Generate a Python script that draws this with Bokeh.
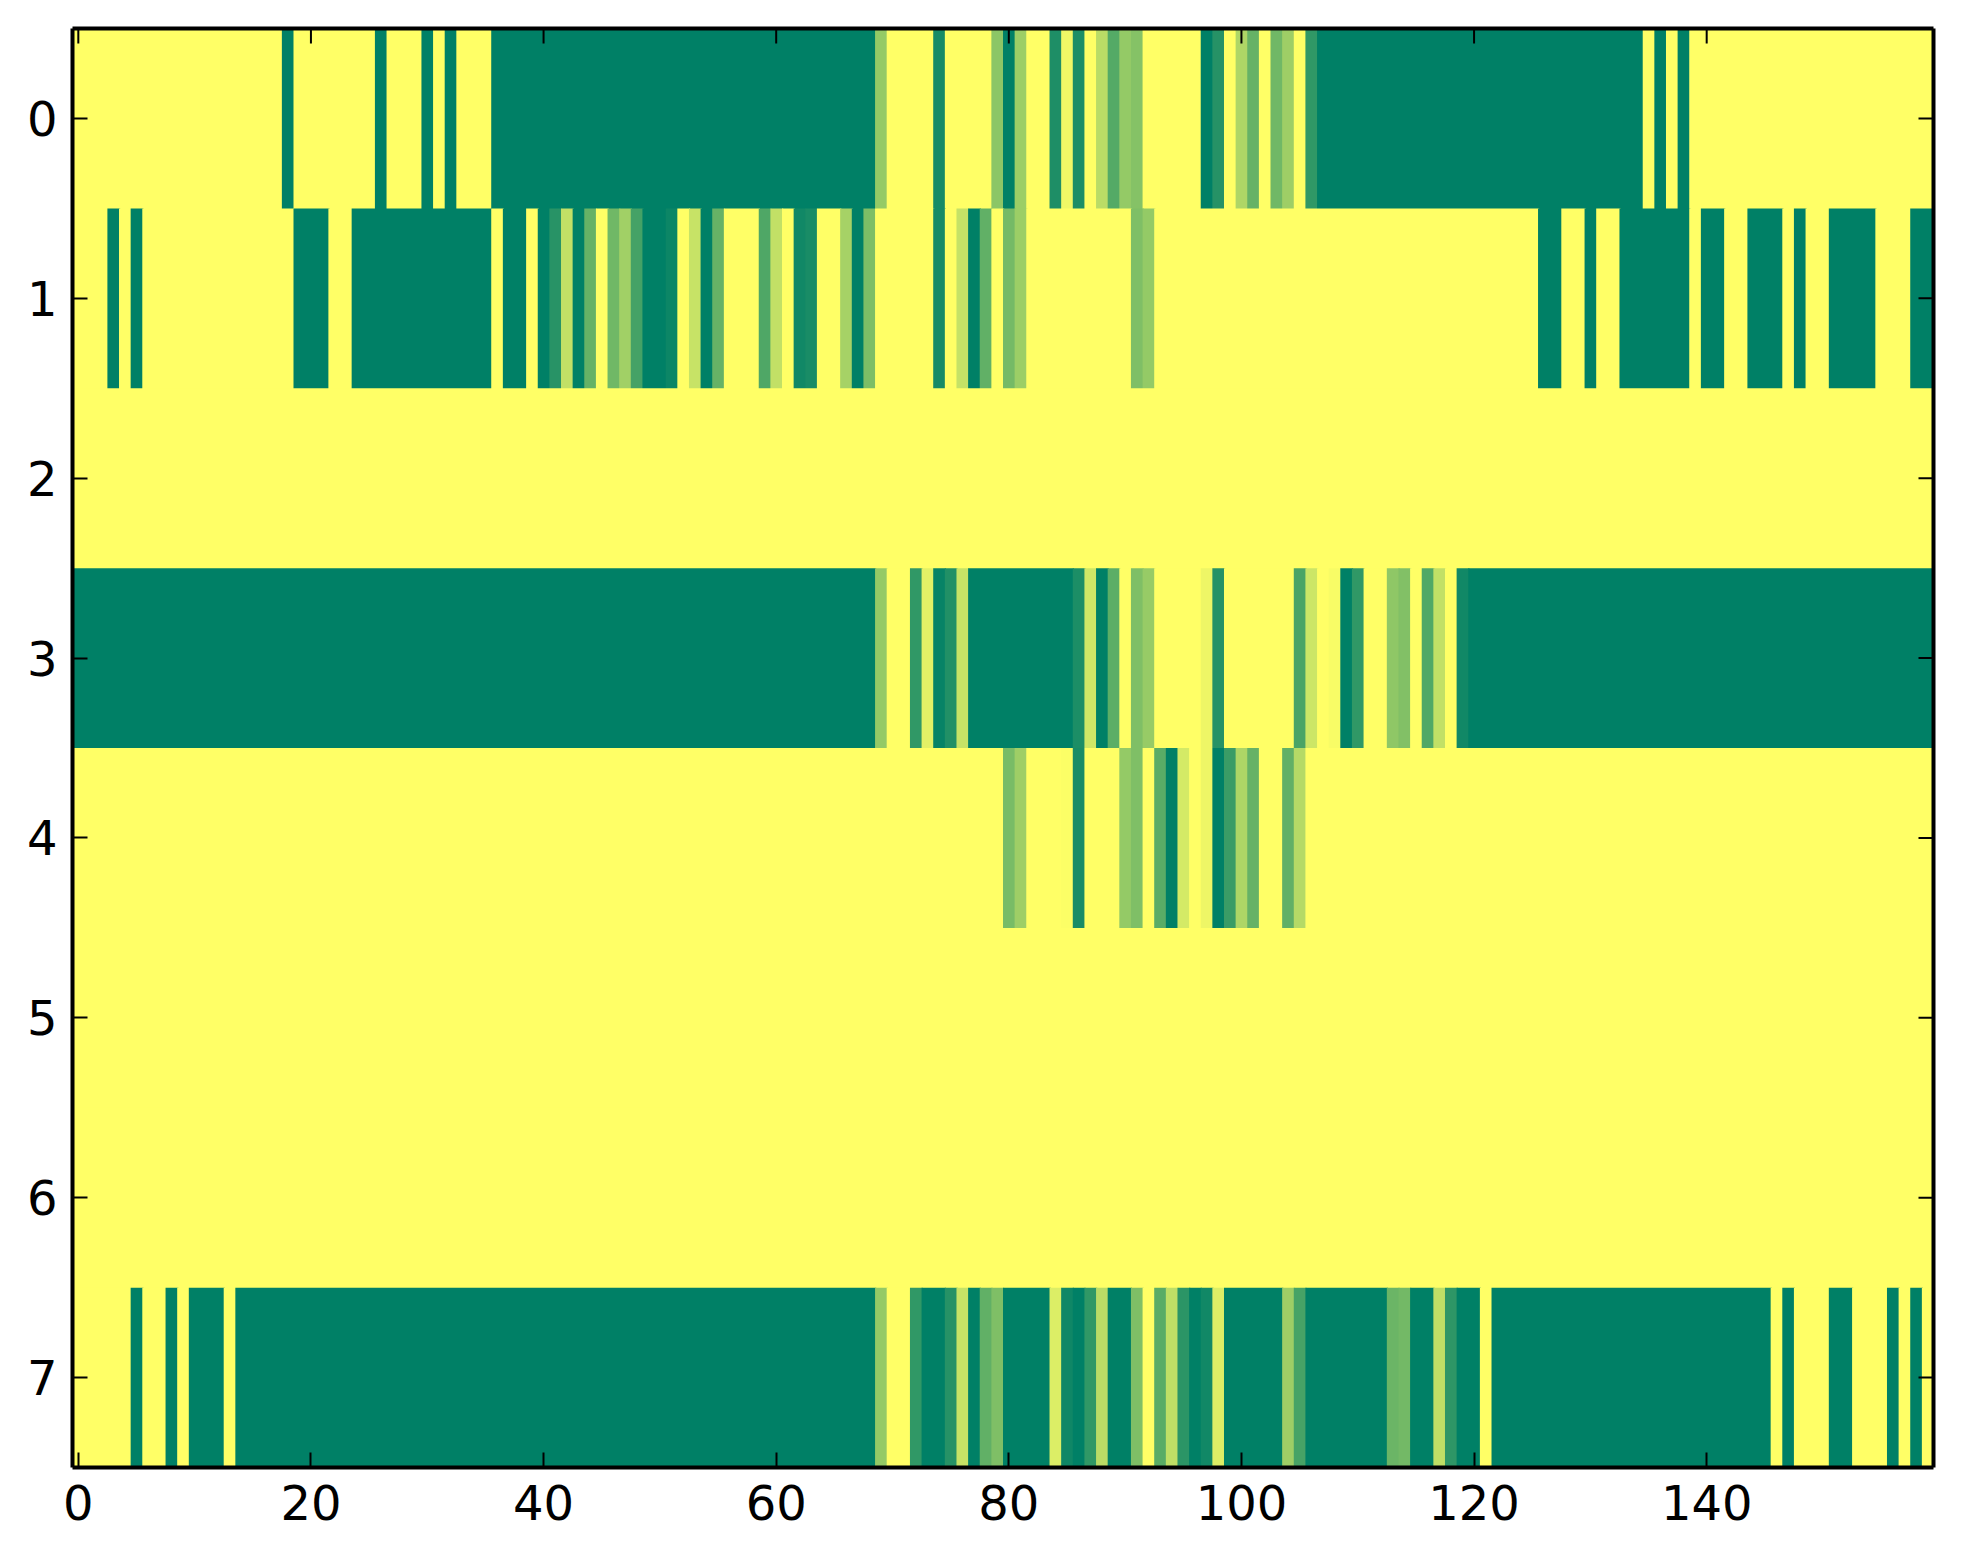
from bokeh.plotting import figure
from bokeh.models import ColumnDataSource, LinearColorMapper, FixedTicker, LinearAxis, Range1d
from bokeh.transform import transform
from bokeh.embed import file_html
from bokeh.resources import INLINE

row_0 = [0]*18 + [1, 0] + \
    [0,0,0,0,0,0,1,0,0,0,1,0,1,0,0,0,1,1,1,1] + \
    [1]*20 + \
    [1,1,1,1,1,1,1,1,1,.42,0,0,0,0,.91,0,0,0,0,.45] + \
    [1,.39,0,0,.88,.06,.89,0,.27,.67,.42,.48,0,0,0,0,0,1,.85,0] + \
    [.32,.6,0,.56,.38,0,.81,1,1,1,1,1,1,1,1,1,1,1,1,1] + \
    [1,1,1,1,1,1,1,1,1,1,1,1,1,1,1,0,1,0,1,0] + \
    [0]*20
row_1 = [0,0,0,1,0,1,0,0,0,0,0,0,0,0,0,0,0,0,0,1] + \
    [1,1,0,0,1,1,1,1,1,1,1,1,1,1,1,1,0,1,1,0] + \
    [1,.84,.24,1,.6,0,.56,.37,.73,1,1,.95,0,.22,1,.6,0,0,0,.69] + \
    [.24,0,.93,.9,0,0,.35,1,.51,0,0,0,0,0,.91,0,.23,1,.62,0] + \
    [.54,.39,0,0,0,0,0,0,0,0,0,.5,.42,0,0,0,0,0,0,0] + \
    [0]*20 + \
    [0,0,0,0,0,0,1,1,0,0,1,0,0,1,1,1,1,1,1,0] + \
    [1,1,0,0,1,1,1,0,1,0,0,1,1,1,1,0,0,0,1,1]
row_2 = [0]*160
row_3 = [1]*60 + \
    [1,1,1,1,1,1,1,1,1,.42,0,0,.81,.11,.97,.87,.22,1,1,1] + \
    [1,1,1,1,1,1,.89,.19,1,.64,0,.5,.41,0,0,0,0,.07,.85,0] + \
    [0,0,0,0,0,.71,.2,0,.03,1,.81,0,0,.44,.49,0,.68,.24,0,.93] + \
    [1]*40
row_4 = [0]*80 + \
    [.53,.38,0,0,0,.015,.9,0,0,0,.42,.5,0,.65,1,.17,0,.07,1,.77] + \
    [.32,.6,0,0,.62,.29,0,0,0,0,0,0,0,0,0,0,0,0,0,0] + \
    [0]*40
row_5 = [0]*160
row_6 = [0]*160
row_7 = [0,0,0,0,0,1,0,0,1,0,1,1,1,0,1,1,1,1,1,1] + \
    [1]*40 + \
    [1,1,1,1,1,1,1,1,1,.42,0,0,.81,1,1,.85,.22,1,.62,.5] + \
    [1,1,1,1,.14,.94,1,.81,.27,1,1,.5,0,.65,.25,.83,1,.93,.14,1] + \
    [1,1,1,1,.38,.72,1,1,1,1,1,1,1,.58,.55,1,1,.25,.82,1] + \
    [1,0,1,1,1,1,1,1,1,1,1,1,1,1,1,1,1,1,1,1] + \
    [1,1,1,1,1,1,0,1,0,0,0,1,1,0,0,0,1,0,1,0]
rows = [row_0, row_1, row_2, row_3, row_4, row_5, row_6, row_7]
x_ticks = [0, 20, 40, 60, 80, 100, 120, 140]
y_ticks = [0, 1, 2, 3, 4, 5, 6, 7]

# merge equal neighbouring cells of a row; each run reaches slightly under the
# next one (which is drawn after it), so that no background shows at the joins
OVERLAP = 0.1
left, right, top, bottom, vals = [], [], [], [], []
for r, row in enumerate(rows):
    assert len(row) == 160, (r, len(row))
    start = 0
    for c in range(1, 161):
        if c == 160 or row[c] != row[start]:
            left.append(start - 0.5); right.append(c - 0.5 + OVERLAP)
            top.append(r - 0.5); bottom.append(r + 0.5 + OVERLAP / 10)
            vals.append(row[start])
            start = c
src = ColumnDataSource(dict(left=left, right=right, top=top, bottom=bottom, v=vals))

# matplotlib summer_r
palette = []
for i in range(256):
    t = 1 - i / 255
    palette.append("#%02x%02x%02x" % (round(255 * t), round(255 * (0.5 + t / 2)), 102))
mapper = LinearColorMapper(palette=palette, low=0, high=1)

FW, FH = 1861, 1439
TICK = 15
SPINE = 4
x0, x1, y0, y1 = -0.5, 159.5, 7.5, -0.5

p = figure(width=1947, height=1548, output_backend="svg", toolbar_location=None,
           x_range=Range1d(x0, x1), y_range=Range1d(y0, y1),
           frame_width=FW, frame_height=FH,
           min_border_left=72, min_border_top=28, min_border_right=14, min_border_bottom=80,
           x_axis_location=None, y_axis_location=None, background_fill_color="#ffff66")
p.grid.visible = False
p.outline_line_color = None

p.quad(left="left", right="right", top="top", bottom="bottom", source=src,
       fill_color=transform("v", mapper), line_color=None)

# tick marks on the top and right spines
dx = TICK * (x1 - x0) / FW
dy = TICK * (y0 - y1) / FH
p.segment(x_ticks, [y1] * len(x_ticks), x_ticks, [y1 + dy] * len(x_ticks), line_color="black", line_width=2)
p.segment([x1] * len(y_ticks), y_ticks, [x1 - dx] * len(y_ticks), y_ticks, line_color="black", line_width=2)

def make_axis(ticks, standoff):
    a = LinearAxis(ticker=FixedTicker(ticks=ticks))
    a.axis_line_color = "black"
    a.axis_line_width = SPINE
    a.major_tick_in = TICK
    a.major_tick_out = 0
    a.major_tick_line_width = 2
    a.major_tick_line_color = "black"
    a.minor_tick_line_color = None
    a.major_label_text_font = "DejaVu Sans"
    a.major_label_text_font_size = "48px"
    a.major_label_text_color = "black"
    a.major_label_standoff = standoff
    return a

p.add_layout(make_axis(x_ticks, 17), "below")
p.add_layout(make_axis(y_ticks, 15), "left")
p.add_layout(make_axis([], 0), "above")
p.add_layout(make_axis([], 0), "right")

open("out.html", "w").write(file_html(p, INLINE))
